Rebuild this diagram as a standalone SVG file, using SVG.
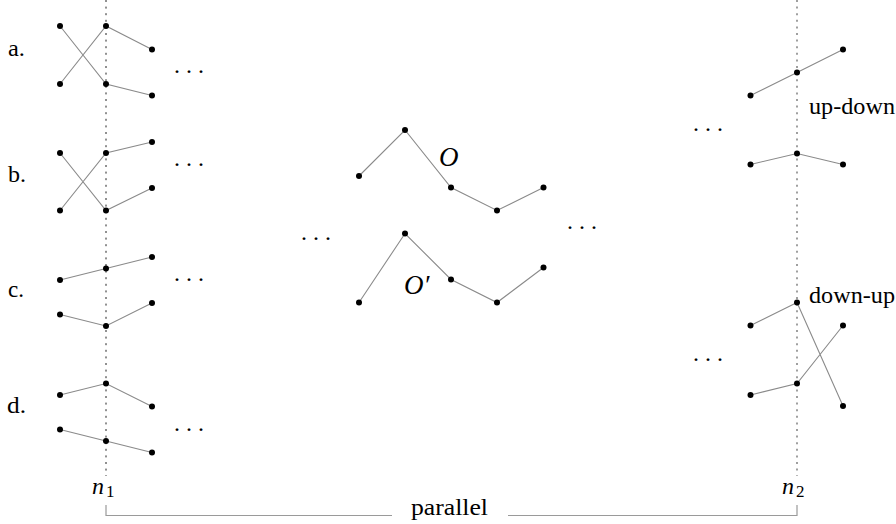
<svg xmlns="http://www.w3.org/2000/svg" width="896" height="524" viewBox="0 0 896 524">
<style>
.e{stroke:#8a8a8a;stroke-width:1.1;fill:none}
.d{fill:#000}
.t{font-family:"Liberation Serif","DejaVu Serif",serif;font-size:24px;fill:#000}
.i{font-style:italic}
.big{font-size:27px}
.s{font-size:17px}
.v1{stroke:#222;stroke-width:1;stroke-dasharray:2 4.6}
.v2{stroke:#777;stroke-width:1.4;stroke-dasharray:2 4.6}
.br{stroke:#9a9a9a;stroke-width:1.2;fill:none}
.dots{font-family:"Liberation Serif",serif;font-size:24px;letter-spacing:6px;fill:#000}
</style>
<g id="guides">
<line class="v1" x1="106" y1="0" x2="106" y2="476"/>
<line class="v2" x1="797" y1="0" x2="797" y2="476"/>
<path class="br" d="M106 505 V515.5 H392 M508 515.5 H797 V505"/>
</g>
<g id="connectors">
<path class="e" d="M60 26 L106 84 L152 95.5 M60 84 L106 26 L152 49.5"/>
<path class="e" d="M60 153 L106 210.5 L152 188 M60 210.5 L106 153 L152 142"/>
<path class="e" d="M60 280 L106 268.5 L152 257 M60 314.5 L106 326 L152 303"/>
<path class="e" d="M60 395 L106 383.5 L152 406.5 M60 429.5 L106 441 L152 452.5"/>
<path class="e" d="M359 176 L405 130 L451 187.5 L497 210.5 L543.5 187.5"/>
<path class="e" d="M359 302.5 L405 233.5 L451 279.5 L497 302.5 L543.5 267.5"/>
<path class="e" d="M750.5 95.5 L797 72.5 L843 49.5 M750.5 164.5 L797 153.5 L843 164.5"/>
<path class="e" d="M750.5 325.5 L797 302.5 L843 406 M750.5 395 L797 383.5 L843 325.5"/>
</g>
<g id="node-a">
<text class="t" x="8" y="56" textLength="17" lengthAdjust="spacingAndGlyphs">a.</text>
<circle class="d" cx="60" cy="26" r="3"/><circle class="d" cx="106" cy="26" r="3"/><circle class="d" cx="152" cy="49.5" r="3"/>
<circle class="d" cx="60" cy="84" r="3"/><circle class="d" cx="106" cy="84" r="3"/><circle class="d" cx="152" cy="95.5" r="3"/>
<text class="dots" x="174" y="73">...</text>
</g>
<g id="node-b">
<text class="t" x="8" y="182" textLength="18" lengthAdjust="spacingAndGlyphs">b.</text>
<circle class="d" cx="60" cy="153" r="3"/><circle class="d" cx="106" cy="153" r="3"/><circle class="d" cx="152" cy="142" r="3"/>
<circle class="d" cx="60" cy="210.5" r="3"/><circle class="d" cx="106" cy="210.5" r="3"/><circle class="d" cx="152" cy="188" r="3"/>
<text class="dots" x="174" y="166">...</text>
</g>
<g id="node-c">
<text class="t" x="8" y="297" textLength="16" lengthAdjust="spacingAndGlyphs">c.</text>
<circle class="d" cx="60" cy="280" r="3"/><circle class="d" cx="106" cy="268.5" r="3"/><circle class="d" cx="152" cy="257" r="3"/>
<circle class="d" cx="60" cy="314.5" r="3"/><circle class="d" cx="106" cy="326" r="3"/><circle class="d" cx="152" cy="303" r="3"/>
<text class="dots" x="174" y="281">...</text>
</g>
<g id="node-d">
<text class="t" x="7" y="413" textLength="19" lengthAdjust="spacingAndGlyphs">d.</text>
<circle class="d" cx="60" cy="395" r="3"/><circle class="d" cx="106" cy="383.5" r="3"/><circle class="d" cx="152" cy="406.5" r="3"/>
<circle class="d" cx="60" cy="429.5" r="3"/><circle class="d" cx="106" cy="441" r="3"/><circle class="d" cx="152" cy="452.5" r="3"/>
<text class="dots" x="174" y="431">...</text>
</g>
<g id="node-O">
<circle class="d" cx="359" cy="176" r="3"/><circle class="d" cx="405" cy="130" r="3"/><circle class="d" cx="451" cy="187.5" r="3"/><circle class="d" cx="497" cy="210.5" r="3"/><circle class="d" cx="543.5" cy="187.5" r="3"/>
<text class="t i big" x="439" y="166">O</text>
</g>
<g id="node-Oprime">
<circle class="d" cx="359" cy="302.5" r="3"/><circle class="d" cx="405" cy="233.5" r="3"/><circle class="d" cx="451" cy="279.5" r="3"/><circle class="d" cx="497" cy="302.5" r="3"/><circle class="d" cx="543.5" cy="267.5" r="3"/>
<text class="t i big" x="404" y="294">O′</text>
</g>
<g id="node-middle-dots">
<text class="dots" x="301" y="240">...</text>
<text class="dots" x="567" y="229">...</text>
</g>
<g id="node-updown">
<circle class="d" cx="750.5" cy="95.5" r="3"/><circle class="d" cx="797" cy="72.5" r="3"/><circle class="d" cx="843" cy="49.5" r="3"/>
<circle class="d" cx="750.5" cy="164.5" r="3"/><circle class="d" cx="797" cy="153.5" r="3"/><circle class="d" cx="843" cy="164.5" r="3"/>
<text class="t" x="809" y="114" textLength="86" lengthAdjust="spacingAndGlyphs">up-down</text>
<text class="dots" x="693" y="131">...</text>
</g>
<g id="node-downup">
<circle class="d" cx="750.5" cy="325.5" r="3"/><circle class="d" cx="797" cy="302.5" r="3"/><circle class="d" cx="843" cy="325.5" r="3"/>
<circle class="d" cx="750.5" cy="395" r="3"/><circle class="d" cx="797" cy="383.5" r="3"/><circle class="d" cx="843" cy="406" r="3"/>
<text class="t" x="809" y="303" textLength="86" lengthAdjust="spacingAndGlyphs">down-up</text>
<text class="dots" x="693" y="361">...</text>
</g>
<g id="node-n1">
<text class="t i" x="92" y="494">n<tspan class="s" font-style="normal" dx="2" dy="3">1</tspan></text>
</g>
<g id="node-n2">
<text class="t i" x="782" y="494">n<tspan class="s" font-style="normal" dx="2" dy="3">2</tspan></text>
</g>
<g id="node-parallel">
<text class="t" x="411" y="515" textLength="77" lengthAdjust="spacingAndGlyphs">parallel</text>
</g>
</svg>
